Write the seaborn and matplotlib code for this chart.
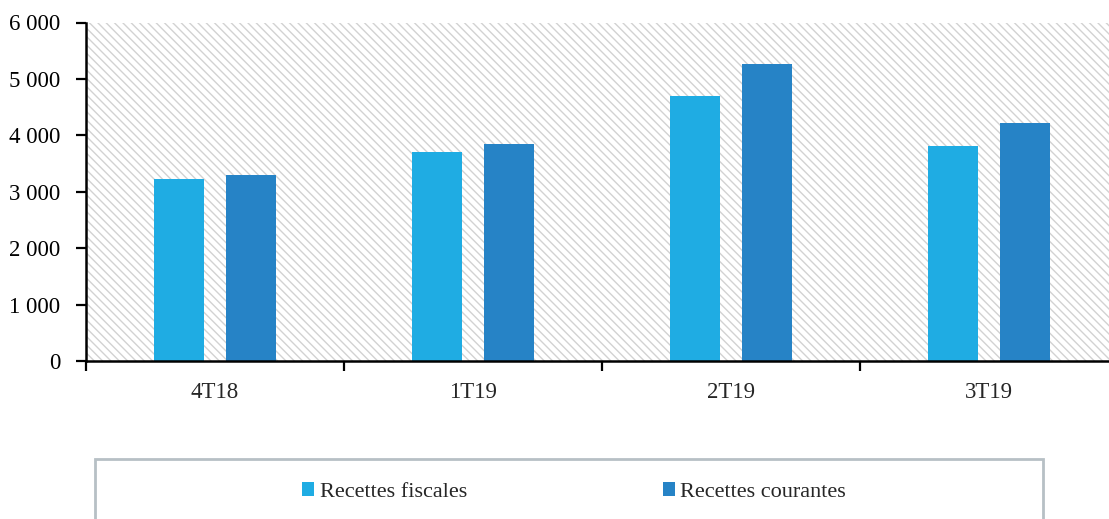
import matplotlib
matplotlib.use("Agg")
import matplotlib.pyplot as plt
from matplotlib.patches import Rectangle
from matplotlib.ticker import FuncFormatter, FixedLocator
import pandas as pd
import seaborn as sns

# Quarterly revenue (values in the chart's units)
periods = ["4T18", "1T19", "2T19", "3T19"]
recettes_fiscales = [3226, 3705, 4699, 3811]
recettes_courantes = [3297, 3847, 5262, 4220]
series_names = ["Recettes fiscales", "Recettes courantes"]
colors = ["#1FACE3", "#2683C6"]
y_ticks = [0, 1000, 2000, 3000, 4000, 5000, 6000]

df = pd.DataFrame({
    "period": periods * 2,
    "value": recettes_fiscales + recettes_courantes,
    "series": [series_names[0]] * len(periods) + [series_names[1]] * len(periods),
})

sns.set_style("white")
plt.rcParams["font.family"] = ["Liberation Serif", "DejaVu Serif"]
plt.rcParams["hatch.linewidth"] = 1.0
plt.rcParams["hatch.color"] = "#d2d2d2"

W, H = 1109, 519
fig = plt.figure(figsize=(W / 100, H / 100), dpi=100)
ax = fig.add_axes([86 / W, (H - 361) / H, 1032 / W, 338.5 / H])

# hatched plot-area background
ax.add_patch(Rectangle((0, 0), 1, 1, transform=ax.transAxes, facecolor="white",
                       edgecolor="#d2d2d2", hatch="\\" * 4, linewidth=0, zorder=0))

sns.barplot(data=df, x="period", y="value", hue="series", palette=colors,
            width=0.56, gap=0.3, saturation=1, linewidth=0, ax=ax, zorder=2,
            legend=True)

ax.set_xlim(-0.5, len(periods) - 0.5)
ax.set_ylim(0, 6000)
ax.set_yticks(y_ticks)
ax.yaxis.set_major_formatter(FuncFormatter(lambda v, p: f"{int(v):,}".replace(",", " ")))
ax.set_xlabel("")
ax.set_ylabel("")

for side in ["top", "right"]:
    ax.spines[side].set_visible(False)
for side in ["left", "bottom"]:
    ax.spines[side].set_linewidth(1.8)
    ax.spines[side].set_color("black")
    ax.spines[side].set_zorder(3)

ax.tick_params(axis="y", which="major", direction="out", length=7, width=1.6,
               pad=11.5, labelsize=16.5, colors="black", left=True)
ax.tick_params(axis="x", which="major", length=0, pad=15, labelsize=16.5)
ax.xaxis.set_minor_locator(FixedLocator([-0.5, 0.5, 1.5, 2.5, 3.5]))
ax.tick_params(axis="x", which="minor", direction="out", length=7, width=1.6,
               bottom=True, colors="black")

# legend in a boxed strip below the plot
handles, labels = ax.get_legend_handles_labels()
ax.get_legend().remove()
fig.add_artist(Rectangle((95 / W, -0.2), (1043 - 95) / W, 0.2 + (H - 459) / H,
                         transform=fig.transFigure, facecolor="white",
                         edgecolor="#b7c0c5", linewidth=2))
fig.legend(handles, labels, loc="center", bbox_to_anchor=(574 / W, (H - 492) / H),
           ncol=2, frameon=False, fontsize=16, handlelength=0.55,
           handleheight=0.55, handletextpad=0.25, columnspacing=8.8)

fig.savefig("out.png", dpi=100)
